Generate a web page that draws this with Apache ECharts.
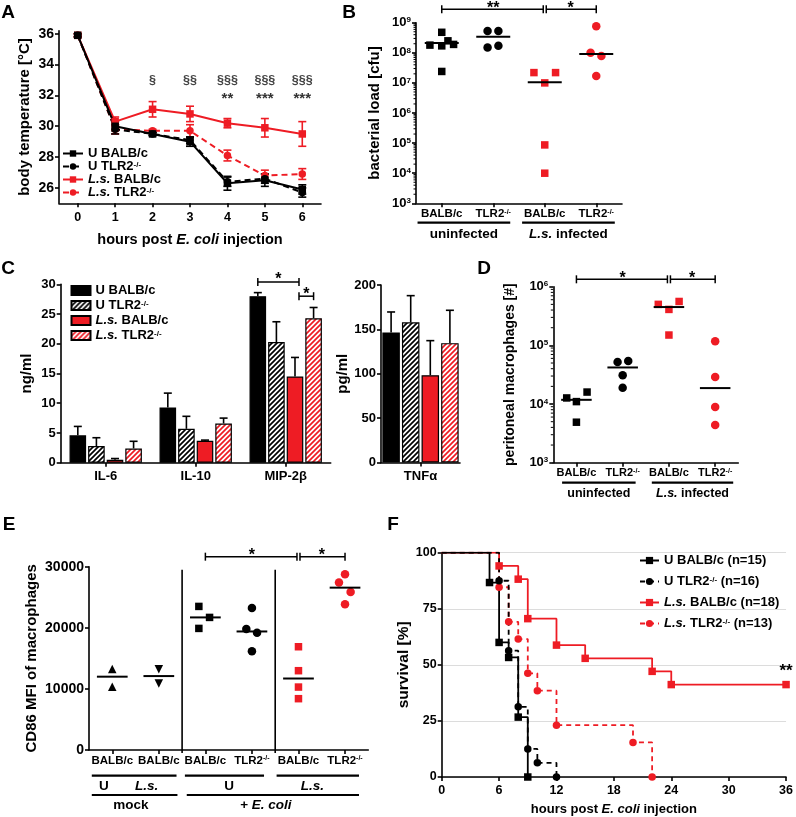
<!DOCTYPE html>
<html><head><meta charset="utf-8">
<script src="https://cdn.jsdelivr.net/npm/echarts@6.0.0/dist/echarts.min.js"></script>
<style>html,body{margin:0;padding:0;background:#fff}#c{width:796px;height:817px}</style>
</head><body><div id="c"></div>
<script>
// ---------------- DATA ----------------
// Panel A: body temperature
const aHours = [0, 1, 2, 3, 4, 5, 6];
const aTempTicks = [26, 28, 30, 32, 34, 36];
const aUBalb = [35.9, 30.0, 29.5, 29.0, 26.3, 26.5, 25.9];
const aUBalbErr = [0.1, 0.3, 0.1, 0.3, 0.45, 0.4, 0.3];
const aUTlr2 = [35.9, 29.8, 29.5, 29.1, 26.4, 26.6, 25.7];
const aUTlr2Err = [0.1, 0.3, 0.1, 0.2, 0.3, 0.3, 0.3];
const aLsBalb = [35.9, 30.3, 31.1, 30.8, 30.2, 29.9, 29.5];
const aLsBalbErr = [0.1, 0.3, 0.5, 0.5, 0.3, 0.6, 0.8];
const aLsTlr2 = [35.9, 29.8, 29.7, 29.7, 28.1, 26.8, 26.9];
const aLsTlr2Err = [0.1, 0.3, 0.1, 0.4, 0.35, 0.35, 0.35];
const aSigSection = ['', '', '§', '§§', '§§§', '§§§', '§§§'];
const aSigStar = ['', '', '', '', '**', '***', '***'];

// Panel B: bacterial load (cfu)
const bXLabels = ['BALB/c', 'TLR2{sup|-/-}', 'BALB/c', 'TLR2{sup|-/-}'];
const bUBalb = [4.8e8, 1.8e8, 1.7e8, 2.5e8, 1.9e8, 2.4e7];
const bUBalbJit = [0, -0.23, 0, 0.12, 0.23, 0];
const bUTlr2 = [5.3e8, 5.3e8, 1.5e8, 1.7e8];
const bUTlr2Jit = [-0.11, 0.10, -0.11, 0.10];
const bLsBalb = [2.2e7, 2.2e7, 1.0e7, 8.7e4, 1.0e4];
const bLsBalbJit = [-0.21, 0.21, 0, 0, 0];
const bLsTlr2 = [7.6e8, 1.0e8, 7.8e7, 1.7e7];
const bLsTlr2Jit = [0, -0.11, 0.10, 0];
const bMeans = [2.1e8, 3.4e8, 1.05e7, 9.1e7];

// Panel C: cytokines
const cCats = ['IL-6', 'IL-10', 'MIP-2β'];
const cUBalb = [4.6, 9.3, 28.0];   const cUBalbErr = [1.5, 2.4, 0.6];
const cUTlr2 = [2.8, 5.7, 20.3];   const cUTlr2Err = [1.4, 2.1, 3.4];
const cLsBalb = [0.5, 3.7, 14.5];  const cLsBalbErr = [0.2, 0.1, 3.2];
const cLsTlr2 = [2.4, 6.6, 24.3];  const cLsTlr2Err = [1.2, 0.9, 1.8];
const cTnfCats = ['TNFα'];
const cTnf = [146.6, 158, 98.3, 134.5];
const cTnfErr = [23, 30, 39, 37];

// Panel D: peritoneal macrophages
const dXLabels = ['BALB/c', 'TLR2{sup|-/-}', 'BALB/c', 'TLR2{sup|-/-}'];
const dUBalb = [1.27e4, 1.1e4, 1.6e4, 4.9e3];
const dUBalbJit = [-0.21, 0, 0.23, 0];
const dUTlr2 = [5.2e4, 5.4e4, 3.1e4, 1.9e4];
const dUTlr2Jit = [-0.11, 0.12, 0, 0];
const dLsBalb = [5.0e5, 4.1e5, 5.6e5, 1.5e5];
const dLsBalbJit = [-0.23, 0, 0.22, 0];
const dLsTlr2 = [1.17e5, 2.9e4, 8.9e3, 4.4e3];
const dLsTlr2Jit = [0, 0, 0, 0];
const dMeans = [1.18e4, 4.2e4, 4.5e5, 1.87e4];

// Panel E: CD86 MFI
const eXLabels = ['BALB/c', 'BALB/c', 'BALB/c', 'TLR2{sup|-/-}', 'BALB/c', 'TLR2{sup|-/-}'];
const eMockU = [13260, 10360];          const eMockUJit = [0, 0];
const eMockLs = [13200, 10900];         const eMockLsJit = [0, 0];
const eUBalb = [23500, 21700, 19900];   const eUBalbJit = [-0.14, 0.09, -0.14];
const eUTlr2 = [23240, 19800, 19200, 16150]; const eUTlr2Jit = [0, -0.12, 0.11, 0];
const eLsBalb = [16900, 12980, 10300, 8400]; const eLsBalbJit = [0, 0, 0, 0];
const eLsTlr2 = [28750, 27400, 25860, 23850]; const eLsTlr2Jit = [0, -0.13, 0.12, 0];
const eMeans = [12000, 12100, 21700, 19400, 11700, 26570];

// Panel F: survival
const fN = [15, 16, 18, 13];
const fUBalbT = [0, 5, 6, 7, 8, 9];
const fUBalbS = [100, 86.7, 60, 53.3, 26.7, 0];
const fUTlr2T = [0, 6, 7, 8, 9, 10, 12];
const fUTlr2S = [100, 87.5, 56.3, 31.3, 12.5, 6.3, 0];
const fLsBalbT = [0, 6, 8, 9, 12, 15, 22, 24, 36];
const fLsBalbS = [100, 94.1, 88.2, 70.6, 58.8, 52.9, 47.1, 41.2, 41.2];
const fLsTlr2T = [0, 6, 7, 8, 9, 10, 12, 20, 22];
const fLsTlr2S = [100, 84.6, 69.2, 61.5, 46.2, 38.5, 23.1, 15.4, 0];

// ---------------- STYLE HELPERS ----------------
const FF = '"Liberation Sans", Arial, sans-serif';
const RED = '#ee1c24';
function txt(size, extra) { return Object.assign({ color: '#000', fill: '#000', fontFamily: FF, fontWeight: 'bold', fontSize: size }, extra || {}); }
function richSet(size) {
  const s = Math.round(size * 0.65);
  return { it: txt(size, { fontStyle: 'italic' }), sup: txt(s, { verticalAlign: 'top', lineHeight: s }) };
}
function hatch(color) {
  const s = 5, c = document.createElement('canvas'); c.width = s; c.height = s;
  const g = c.getContext('2d'); g.fillStyle = '#fff'; g.fillRect(0, 0, s, s);
  g.strokeStyle = color; g.lineWidth = 1.7;
  g.beginPath();
  g.moveTo(-1, s + 1); g.lineTo(s + 1, -1);
  g.moveTo(-1, 1); g.lineTo(1, -1);
  g.moveTo(s - 1, s + 1); g.lineTo(s + 1, s - 1);
  g.stroke();
  return { image: c, repeat: 'repeat' };
}
const legendText = {
  aUB: 'U BALB/c', aUT: 'U TLR2{sup|-/-}', aLB: '{it|L.s.} BALB/c', aLT: '{it|L.s.} TLR2{sup|-/-}',
  cUB: 'U BALB/c', cUT: 'U TLR2{sup|-/-}', cLB: '{it|L.s.} BALB/c', cLT: '{it|L.s.} TLR2{sup|-/-}',
  fUB: 'U BALB/c (n=' + fN[0] + ')', fUT: 'U TLR2{sup|-/-} (n=' + fN[1] + ')',
  fLB: '{it|L.s.} BALB/c (n=' + fN[2] + ')', fLT: '{it|L.s.} TLR2{sup|-/-} (n=' + fN[3] + ')'
};

const grids = [
  { left: 59, top: 30.7, width: 262, height: 172.6 },       // A
  { left: 416, top: 22.7, width: 206, height: 180.6 },      // B
  { left: 60.7, top: 284.3, width: 270, height: 178.4 },    // C left
  { left: 381, top: 285, width: 79, height: 177.5 },        // C right
  { left: 553.3, top: 286.7, width: 185, height: 176 },     // D
  { left: 89, top: 566.7, width: 279.3, height: 183.3 },    // E
  { left: 441.7, top: 552.7, width: 347.6, height: 224.6 }  // F
];

function axis(gi, o) {
  const a = {
    gridIndex: gi,
    axisLine: { show: true, onZero: false, lineStyle: { color: '#000', width: 1.6 } },
    axisTick: { show: true, length: 4, lineStyle: { color: '#000', width: 1.6 } },
    axisLabel: { color: '#000', fontFamily: FF, fontWeight: 'bold', fontSize: 12.5, margin: 5, rich: richSet(12.5) },
    splitLine: { show: false },
    nameLocation: 'middle',
    nameTextStyle: txt(14.5, { rich: richSet(14.5) })
  };
  for (const k in o) {
    if (a[k] && typeof a[k] === 'object' && typeof o[k] === 'object' && !Array.isArray(o[k])) a[k] = Object.assign({}, a[k], o[k]);
    else a[k] = o[k];
  }
  return a;
}
const logFmt = v => '10{sup|' + Math.round(Math.log10(v)) + '}';

const xAxes = [
  axis(0, { type: 'value', min: -0.5, max: 6.5, axisTick: { customValues: aHours }, axisLabel: { customValues: aHours, margin: 8, fontSize: 12.5 }, name: 'hours post {it|E. coli} injection', nameGap: 29 }),
  axis(1, { type: 'value', min: 0.5, max: 4.5, axisTick: { customValues: [1, 2, 3, 4] }, axisLabel: { customValues: [1, 2, 3, 4], fontSize: 11.5, rich: richSet(11.5), formatter: v => bXLabels[Math.round(v) - 1] } }),
  axis(2, { type: 'category', data: cCats, axisTick: { alignWithLabel: true }, axisLabel: { margin: 7, fontSize: 13 } }),
  axis(3, { type: 'category', data: cTnfCats, axisTick: { alignWithLabel: true }, axisLabel: { margin: 7, fontSize: 13 } }),
  axis(4, { type: 'value', min: 0.5, max: 4.5, axisTick: { customValues: [1, 2, 3, 4] }, axisLabel: { customValues: [1, 2, 3, 4], fontSize: 11, rich: richSet(11), formatter: v => dXLabels[Math.round(v) - 1] } }),
  axis(5, { type: 'value', min: 0.5, max: 6.5, axisTick: { customValues: [1, 2, 3, 4, 5, 6] }, axisLabel: { customValues: [1, 2, 3, 4, 5, 6], fontSize: 11.5, rich: richSet(11.5), formatter: v => eXLabels[Math.round(v) - 1] } }),
  axis(6, { type: 'value', min: 0, max: 36, interval: 6, name: 'hours post {it|E. coli} injection', nameGap: 26, nameTextStyle: txt(13, { rich: richSet(13) }), axisLabel: { margin: 7 } })
];
const yAxes = [
  axis(0, { type: 'value', min: 25, max: 36.2, axisTick: { customValues: aTempTicks }, axisLabel: { customValues: aTempTicks, fontSize: 14 }, name: 'body temperature [°C]', nameGap: 27, nameTextStyle: txt(15) }),
  axis(1, { type: 'log', logBase: 10, min: 1e3, max: 1e9, axisLabel: { formatter: logFmt, fontSize: 13, rich: richSet(13) }, name: 'bacterial load [cfu]', nameGap: 34, nameTextStyle: txt(15) }),
  axis(2, { type: 'value', min: 0, max: 30, interval: 5, axisLabel: { fontSize: 13 }, name: 'ng/ml', nameGap: 26, nameTextStyle: txt(15) }),
  axis(3, { type: 'value', min: 0, max: 200, interval: 50, axisLabel: { fontSize: 13 }, name: 'pg/ml', nameGap: 30, nameTextStyle: txt(15) }),
  axis(4, { type: 'log', logBase: 10, min: 1e3, max: 1e6, axisLabel: { formatter: logFmt, fontSize: 13, rich: richSet(13) }, name: 'peritoneal macrophages [#]', nameGap: 36, nameTextStyle: txt(14) }),
  axis(5, { type: 'value', min: 0, max: 30000, interval: 10000, axisLabel: { fontSize: 14, formatter: v => String(v) }, name: 'CD86 MFI of macrophages', nameGap: 50, nameTextStyle: txt(15) }),
  axis(6, { type: 'value', min: 0, max: 100, interval: 25, name: 'survival [%]', nameGap: 30, nameTextStyle: txt(15.5), splitLine: { show: true, lineStyle: { color: '#dcdcdc', width: 1 } } })
];

// ---------------- SERIES BUILDERS ----------------
const series = [];
function lineS(name, xs, ys, color, dashed, symbol, gi) {
  series.push({ type: 'line', name, xAxisIndex: gi, yAxisIndex: gi, data: xs.map((x, i) => [x, ys[i]]),
    symbol, symbolSize: 7.5, lineStyle: { color, width: 2, type: dashed ? [6, 4] : 'solid' }, itemStyle: { color, opacity: 1 }, z: 3 });
}
function errS(xs, ys, errs, color, gi, cap) {
  series.push({ type: 'custom', xAxisIndex: gi, yAxisIndex: gi, data: xs.map((x, i) => [x, ys[i], errs[i]]), z: 2, silent: true,
    renderItem(p, api) {
      const x = api.value(0), y = api.value(1), e = api.value(2);
      const t = api.coord([x, y + e]), b = api.coord([x, y - e]), w = cap / 2;
      const st = { stroke: color, lineWidth: 1.6 };
      return { type: 'group', children: [
        { type: 'line', shape: { x1: t[0], y1: t[1], x2: b[0], y2: b[1] }, style: st },
        { type: 'line', shape: { x1: t[0] - w, y1: t[1], x2: t[0] + w, y2: t[1] }, style: st },
        { type: 'line', shape: { x1: b[0] - w, y1: b[1], x2: b[0] + w, y2: b[1] }, style: st }] };
    } });
}
const BGAP = 0.12;
function barS(name, vals, fill, gi, bw) {
  series.push({ type: 'bar', name, xAxisIndex: gi, yAxisIndex: gi, data: vals, barWidth: bw, barGap: (BGAP * 100) + '%',
    itemStyle: { color: fill, borderColor: '#000', borderWidth: 1.2 }, z: 2 });
}
function barOffset(idx, bw) { const total = 4 * bw + 3 * bw * BGAP; return -total / 2 + bw / 2 + idx * bw * (1 + BGAP); }
function barErrS(vals, errs, idx, gi, bw) {
  series.push({ type: 'custom', xAxisIndex: gi, yAxisIndex: gi, data: vals.map((v, i) => [i, v, errs[i]]), z: 1, silent: true,
    renderItem(p, api) {
      const c = api.value(0), v = api.value(1), e = api.value(2);
      const p0 = api.coord([c, v]), p1 = api.coord([c, v + e]);
      const x = p0[0] + barOffset(idx, bw);
      const st = { stroke: '#000', lineWidth: 1.6 };
      return { type: 'group', children: [
        { type: 'line', shape: { x1: x, y1: p0[1], x2: x, y2: p1[1] }, style: st },
        { type: 'line', shape: { x1: x - 4, y1: p1[1], x2: x + 4, y2: p1[1] }, style: st }] };
    } });
}
function dotS(vals, jit, cat, symbol, color, gi, size, rot) {
  series.push({ type: 'scatter', xAxisIndex: gi, yAxisIndex: gi, data: vals.map((v, i) => [cat + jit[i], v]),
    symbol, symbolSize: size || 8, symbolRotate: rot || 0, itemStyle: { color, opacity: 1 }, z: 3, silent: true });
}
function meanS(means, gi, half) {
  series.push({ type: 'custom', xAxisIndex: gi, yAxisIndex: gi, data: means.map((m, i) => [i + 1, m]), z: 5, silent: true,
    renderItem(p, api) {
      const a = api.coord([api.value(0) - half, api.value(1)]), b = api.coord([api.value(0) + half, api.value(1)]);
      return { type: 'line', shape: { x1: a[0], y1: a[1], x2: b[0], y2: b[1] }, style: { stroke: '#000', lineWidth: 2 } };
    } });
}
function minorLogS(gi, lo, hi, xmin) {
  const vals = [];
  for (let n = lo; n < hi; n++) for (let k = 2; k <= 9; k++) vals.push([xmin, k * Math.pow(10, n)]);
  series.push({ type: 'custom', xAxisIndex: gi, yAxisIndex: gi, data: vals, silent: true, z: 1,
    renderItem(p, api) { const q = api.coord([api.value(0), api.value(1)]);
      return { type: 'line', shape: { x1: q[0] - 2.5, y1: q[1], x2: q[0], y2: q[1] }, style: { stroke: '#000', lineWidth: 1 } }; } });
}
function kmS(name, ts, ss, color, dashed, symbol) {
  series.push({ type: 'line', name, xAxisIndex: 6, yAxisIndex: 6, step: 'end',
    data: ts.map((t, i) => i === 0 ? { value: [t, ss[i]], symbol: 'none' } : [t, ss[i]]),
    symbol, symbolSize: 7.5, lineStyle: { color, width: 1.8, type: dashed ? [5, 4] : 'solid' }, itemStyle: { color, opacity: 1 }, z: 3 });
}

// Panel A
errS(aHours, aLsTlr2, aLsTlr2Err, RED, 0, 8);
errS(aHours, aLsBalb, aLsBalbErr, RED, 0, 8);
errS(aHours, aUTlr2, aUTlr2Err, '#000', 0, 8);
errS(aHours, aUBalb, aUBalbErr, '#000', 0, 8);
lineS('aLT', aHours, aLsTlr2, RED, true, 'circle', 0);
lineS('aLB', aHours, aLsBalb, RED, false, 'rect', 0);
lineS('aUT', aHours, aUTlr2, '#000', true, 'circle', 0);
lineS('aUB', aHours, aUBalb, '#000', false, 'rect', 0);

// Panel B
minorLogS(1, 3, 9, 0.5);
dotS(bUBalb, bUBalbJit, 1, 'rect', '#000', 1, 7.5);
dotS(bUTlr2, bUTlr2Jit, 2, 'circle', '#000', 1, 8.5);
dotS(bLsBalb, bLsBalbJit, 3, 'rect', RED, 1, 7.5);
dotS(bLsTlr2, bLsTlr2Jit, 4, 'circle', RED, 1, 8.5);
meanS(bMeans, 1, 0.33);

// Panel C
const CBW = 16.6, TBW = 17.5;
barS('cUB', cUBalb, '#000', 2, CBW);
barS('cUT', cUTlr2, hatch('#000'), 2, CBW);
barS('cLB', cLsBalb, RED, 2, CBW);
barS('cLT', cLsTlr2, hatch(RED), 2, CBW);
barErrS(cUBalb, cUBalbErr, 0, 2, CBW);
barErrS(cUTlr2, cUTlr2Err, 1, 2, CBW);
barErrS(cLsBalb, cLsBalbErr, 2, 2, CBW);
barErrS(cLsTlr2, cLsTlr2Err, 3, 2, CBW);
const tnfFills = ['#000', hatch('#000'), RED, hatch(RED)];
cTnf.forEach((v, i) => { barS('t' + i, [v], tnfFills[i], 3, TBW); barErrS([v], [cTnfErr[i]], i, 3, TBW); });

// Panel D
minorLogS(4, 3, 6, 0.5);
dotS(dUBalb, dUBalbJit, 1, 'rect', '#000', 4, 7.5);
dotS(dUTlr2, dUTlr2Jit, 2, 'circle', '#000', 4, 8.5);
dotS(dLsBalb, dLsBalbJit, 3, 'rect', RED, 4, 7.5);
dotS(dLsTlr2, dLsTlr2Jit, 4, 'circle', RED, 4, 8.5);
meanS(dMeans, 4, 0.33);

// Panel E
dotS(eMockU, eMockUJit, 1, 'triangle', '#000', 5, 8.5);
dotS(eMockLs, eMockLsJit, 2, 'triangle', '#000', 5, 8.5, 180);
dotS(eUBalb, eUBalbJit, 3, 'rect', '#000', 5, 7.5);
dotS(eUTlr2, eUTlr2Jit, 4, 'circle', '#000', 5, 8.5);
dotS(eLsBalb, eLsBalbJit, 5, 'rect', RED, 5, 7.5);
dotS(eLsTlr2, eLsTlr2Jit, 6, 'circle', RED, 5, 8.5);
meanS(eMeans, 5, 0.33);

// Panel F
kmS('fLT', fLsTlr2T, fLsTlr2S, RED, true, 'circle');
kmS('fLB', fLsBalbT, fLsBalbS, RED, false, 'rect');
kmS('fUT', fUTlr2T, fUTlr2S, '#000', true, 'circle');
kmS('fUB', fUBalbT, fUBalbS, '#000', false, 'rect');

const legendBase = { orient: 'vertical', padding: 0, selectedMode: false, formatter: n => legendText[n] };
const option = {
  animation: false,
  backgroundColor: '#fff',
  grid: grids,
  xAxis: xAxes,
  yAxis: yAxes,
  legend: [
    Object.assign({}, legendBase, { data: ['aUB', 'aUT', 'aLB', 'aLT'], left: 62, top: 147, itemWidth: 20, itemHeight: 8, itemGap: 0,
      textStyle: txt(13, { lineHeight: 12, rich: richSet(13) }) }),
    Object.assign({}, legendBase, { data: ['cUB', 'cUT', 'cLB', 'cLT'], left: 70.5, top: 284, itemWidth: 19, itemHeight: 9, itemGap: 2, icon: 'rect',
      textStyle: txt(13, { lineHeight: 12, rich: richSet(13) }) }),
    Object.assign({}, legendBase, { data: ['fUB', 'fUT', 'fLB', 'fLT'], left: 639, top: 554, itemWidth: 19, itemHeight: 9, itemGap: 8,
      textStyle: txt(13, { lineHeight: 12, rich: richSet(13) }) })
  ],
  series
};

const chart = echarts.init(document.getElementById('c'));
chart.setOption(option);

// ---------------- ANNOTATIONS ----------------
const G = [];
function px(gi, x, y) { return chart.convertToPixel({ gridIndex: gi }, [x, y]); }
function L(x1, y1, x2, y2, w) { G.push({ type: 'line', silent: true, shape: { x1, y1, x2, y2 }, style: { stroke: '#000', lineWidth: w || 1.5 } }); }
function T(x, y, text, size, extra) {
  G.push({ type: 'text', silent: true, x, y, style: Object.assign({ text, fill: '#000', fontFamily: FF, fontWeight: 'bold', fontSize: size,
    align: 'center', verticalAlign: 'middle', rich: richSet(size) }, extra || {}) });
}
function bracket(x1, x2, y) { L(x1, y, x2, y); L(x1, y - 4, x1, y + 4); L(x2, y - 4, x2, y + 4); }

// panel letters
T(8, 13, 'A', 19); T(349, 13, 'B', 19); T(8, 269, 'C', 19); T(484, 269, 'D', 19); T(9, 525, 'E', 19); T(393, 525, 'F', 19);

// A significance
aHours.forEach((h, i) => {
  if (aSigSection[i]) { const p = px(0, h, 32.95); T(p[0], p[1], aSigSection[i], 12.5, { fill: '#444' }); }
  if (aSigStar[i]) { const p = px(0, h, 31.75); T(p[0], p[1], aSigStar[i], 15, { fill: '#333' }); }
});

// B
(function () {
  const yb = px(1, 1, Math.pow(10, 9.445))[1];
  const x1 = px(1, 1, 1e3)[0], x3 = px(1, 3, 1e3)[0], x4 = px(1, 4, 1e3)[0];
  bracket(x1, x3 - 1.5, yb); bracket(x3 + 1.5, x4, yb);
  T((x1 + x3) / 2, yb - 1, '**', 16); T((x3 + x4) / 2, yb - 1, '*', 16);
  const ay = px(1, 1, 1e3)[1];
  [[0.53, 2.33, 'uninfected'], [2.56, 4.36, '{it|L.s.} infected']].forEach(s => {
    const a = px(1, s[0], 1e3)[0], b = px(1, s[1], 1e3)[0];
    L(a, ay + 19.4, b, ay + 19.4, 2.2); T((a + b) / 2, ay + 31, s[2], 13.5);
  });
})();

// C
(function () {
  const c = px(2, 2, 0)[0];
  const b0 = c + barOffset(0, CBW), b2 = c + barOffset(2, CBW) + 4, b3 = c + barOffset(3, CBW);
  const y1 = px(2, 2, 30.4)[1], y2 = px(2, 2, 28.0)[1];
  bracket(b0, b2, y1); bracket(b2, b3, y2);
  T((b0 + b2) / 2, y1 - 2, '*', 16); T((b2 + b3) / 2, y2 - 2, '*', 16);
})();

// D
(function () {
  const yb = px(4, 1, Math.pow(10, 6.126))[1];
  const x1 = px(4, 1, 1e3)[0], x3 = px(4, 3, 1e3)[0], x4 = px(4, 4, 1e3)[0];
  bracket(x1, x3 - 1.5, yb); bracket(x3 + 1.5, x4, yb);
  T((x1 + x3) / 2, yb - 1, '*', 16); T((x3 + x4) / 2, yb - 1, '*', 16);
  const ay = px(4, 1, 1e3)[1];
  [[0.69, 2.28, 'uninfected'], [2.63, 4.39, '{it|L.s.} infected']].forEach(s => {
    const a = px(4, s[0], 1e3)[0], b = px(4, s[1], 1e3)[0];
    L(a, ay + 20, b, ay + 20, 2.2); T((a + b) / 2, ay + 30.6, s[2], 12.5);
  });
})();

// E
(function () {
  const ay = px(5, 1, 0)[1];
  [2.5, 4.5].forEach(x => { const t = px(5, x, 29500); L(t[0], t[1], t[0], ay + 3, 1.6); });
  const yb = px(5, 3, 31640)[1];
  const x3 = px(5, 3, 0)[0], x5 = px(5, 5, 0)[0], x6 = px(5, 6, 0)[0];
  bracket(x3, x5 - 1.5, yb); bracket(x5 + 1.5, x6, yb);
  T((x3 + x5) / 2, yb - 1, '*', 16); T((x5 + x6) / 2, yb - 1, '*', 16);
  [[0.56, 2.38], [2.56, 4.26], [4.53, 6.3]].forEach(s => L(px(5, s[0], 0)[0], ay + 25.7, px(5, s[1], 0)[0], ay + 25.7, 2.2));
  [[0.56, 2.4], [2.6, 6.3]].forEach(s => L(px(5, s[0], 0)[0], ay + 45, px(5, s[1], 0)[0], ay + 45, 2.2));
  [[0.82, 'U'], [1.74, '{it|L.s.}'], [3.51, 'U'], [5.3, '{it|L.s.}']].forEach(s => T(px(5, s[0], 0)[0], ay + 36, s[1], 13.5));
  [[1.4, 'mock'], [4.3, '+ {it|E. coli}']].forEach(s => T(px(5, s[0], 0)[0], ay + 55.7, s[1], 13.5));
})();

// F
(function () { const p = px(6, 36, 47); T(p[0], p[1], '**', 17); })();

chart.setOption({ graphic: G });
</script></body></html>
